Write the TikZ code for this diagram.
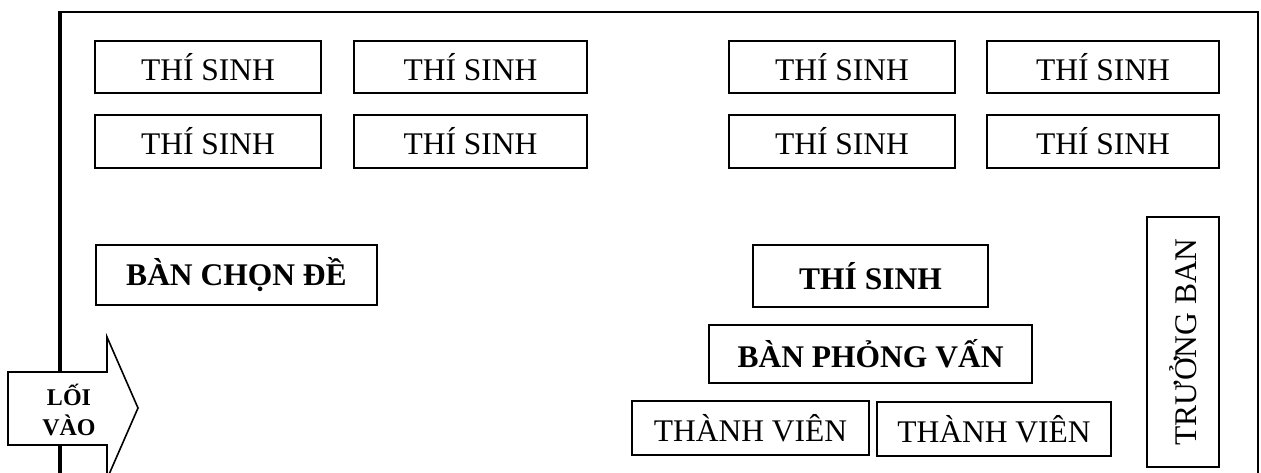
\documentclass[tikz,border=0pt]{standalone}
\usepackage{fontspec}
\setmainfont{Liberation Serif}
\begin{document}
\begin{tikzpicture}[x=1pt,y=-1pt,
  box/.style={draw, line width=1.6pt, inner sep=0pt, font=\fontsize{31.5}{36}\selectfont},
  bbox/.style={box, font=\fontsize{31.5}{36}\selectfont\bfseries},
  frame/.style={line width=2pt},
]
\useasboundingbox (0,0) rectangle (1261,473);
\clip (0,0) rectangle (1261,473);
% outer frame
\draw[frame] (1258,480) -- (1258,12) -- (60,12);
\draw[line width=3.5pt] (60,11) -- (60,480);
% entrance arrow
\draw[line width=1.6pt, fill=white] (8,372) -- (107,372) -- (107,337) -- (138,408) -- (107,479) -- (107,445) -- (8,445) -- cycle;
\node[align=center, font=\fontsize{24}{30}\selectfont\bfseries] (entry) at (69,410) {LỐI\\VÀO};
% candidates
\node[box, minimum width=226pt, minimum height=52pt] (t1) at (208,67) {THÍ SINH};
\node[box, minimum width=233pt, minimum height=52pt] (t2) at (470.5,67) {THÍ SINH};
\node[box, minimum width=226pt, minimum height=52pt] (t3) at (842,67) {THÍ SINH};
\node[box, minimum width=232pt, minimum height=52pt] (t4) at (1103,67) {THÍ SINH};
\node[box, minimum width=226pt, minimum height=53pt] (t5) at (208,141.5) {THÍ SINH};
\node[box, minimum width=233pt, minimum height=53pt] (t6) at (470.5,141.5) {THÍ SINH};
\node[box, minimum width=226pt, minimum height=53pt] (t7) at (842,141.5) {THÍ SINH};
\node[box, minimum width=232pt, minimum height=53pt] (t8) at (1103,141.5) {THÍ SINH};
% tables
\node[bbox, minimum width=281pt, minimum height=60pt] (chon) at (236.5,275) {BÀN CHỌN ĐỀ};
\node[bbox, minimum width=235pt, minimum height=62pt] (ts) at (870.5,276) {THÍ SINH};
\node[bbox, minimum width=323pt, minimum height=58pt] (pv) at (870.5,354) {BÀN PHỎNG VẤN};
\node[box, minimum width=237pt, minimum height=54pt] (tv1) at (750.5,428) {THÀNH VIÊN};
\node[box, minimum width=234pt, minimum height=54pt] (tv2) at (994,429) {THÀNH VIÊN};
\node[box, minimum width=250pt, minimum height=72pt, rotate=90] (tb) at (1183,342) {TRƯỞNG BAN};
\end{tikzpicture}
\end{document}
